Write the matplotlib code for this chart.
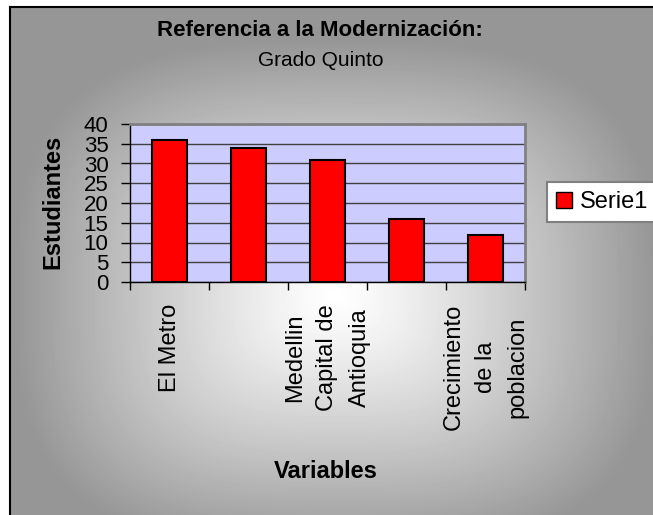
import numpy as np
import matplotlib
matplotlib.use("Agg")
import matplotlib.pyplot as plt
from matplotlib.patches import Patch

# datos
categorias = ["El Metro", "", "Medellin\nCapital de\nAntioquia", "", "Crecimiento\nde la\npoblacion"]
estudiantes = [36, 34, 31, 16, 12]
serie = "Serie1"
y_ticks = list(range(0, 41, 5))

plt.rcParams["font.family"] = ["Liberation Sans", "DejaVu Sans"]

W, H = 653, 515
fig = plt.figure(figsize=(W / 100, H / 100), dpi=100)


def px(x, y, w, h):
    # pixel box (top-left origin) -> figure fraction
    return [x / W, 1 - (y + h) / H, w / W, h / H]


# fondo con degradado desde el centro
bg = fig.add_axes(px(10, 7, 643, 508), zorder=-10)
yy, xx = np.mgrid[7:515, 10:653]
dx = (xx - 335) / 320
dy = (yy - 295) / 255
d = (np.abs(dx) ** 3 + np.abs(dy) ** 3) ** (1 / 3)
v = 1 - (1 - 150 / 255) * np.clip(d, 0, 1) ** 1.2
bg.imshow(v, cmap="gray", vmin=0, vmax=1, aspect="auto", interpolation="bilinear")
bg.set_xticks([])
bg.set_yticks([])
bg.spines["right"].set_visible(False)
bg.spines["bottom"].set_visible(False)
bg.spines["left"].set_linewidth(1.5)
bg.spines["top"].set_linewidth(1.5)

# area de trazado
ax = fig.add_axes(px(130, 124, 395, 158))
ax.set_facecolor("#ccccff")
x = np.arange(len(categorias))
ax.bar(x, estudiantes, width=0.44, color="#ff0000", edgecolor="black", linewidth=1.5, zorder=3)
ax.set_xlim(-0.5, len(categorias) - 0.5)
ax.set_ylim(0, 40)
ax.set_yticks(y_ticks)
ax.set_yticklabels([str(t) for t in y_ticks], fontsize=16)
ax.yaxis.grid(True, color="#404040", linewidth=1)
ax.set_axisbelow(True)

ax.set_xticks(np.arange(-0.5, len(categorias), 1))
ax.set_xticklabels([])
ax.set_xticks(x, minor=True)
ax.set_xticklabels(categorias, minor=True, rotation=90, va="top", ha="center",
                   multialignment="center", fontsize=17, linespacing=1.6)
ax.tick_params(axis="x", which="minor", length=0, pad=16)
ax.tick_params(axis="x", which="major", length=6, width=1, direction="out")
ax.tick_params(axis="y", length=6.5, width=1, pad=9, direction="out")

for s in ("top", "right"):
    ax.spines[s].set_color("#808080")
    ax.spines[s].set_linewidth(2)
for s in ("left", "bottom"):
    ax.spines[s].set_color("black")
    ax.spines[s].set_linewidth(1)

# leyenda
leg = fig.legend(handles=[Patch(facecolor="#ff0000", edgecolor="black", label=serie)],
                 loc="center left", bbox_to_anchor=(547 / W, 1 - 202 / H), fontsize=17,
                 frameon=True, fancybox=False, edgecolor="#808080", framealpha=1,
                 borderpad=0.4, handlelength=0.65, handleheight=0.65,
                 handletextpad=0.35, borderaxespad=0)
leg.get_frame().set_linewidth(1.5)

# textos
fig.text(320 / W, 1 - 31 / H, "Referencia a la Modernización:", ha="center", va="center",
         fontsize=16, fontweight="bold")
fig.text(321 / W, 1 - 60 / H, "Grado Quinto", ha="center", va="center", fontsize=15)
fig.text(53 / W, 1 - 202 / H, "Estudiantes", ha="center", va="center", rotation=90,
         fontsize=17, fontweight="bold")
fig.text(326 / W, 1 - 472 / H, "Variables", ha="center", va="center",
         fontsize=17, fontweight="bold")

fig.savefig("out.png", dpi=100)
